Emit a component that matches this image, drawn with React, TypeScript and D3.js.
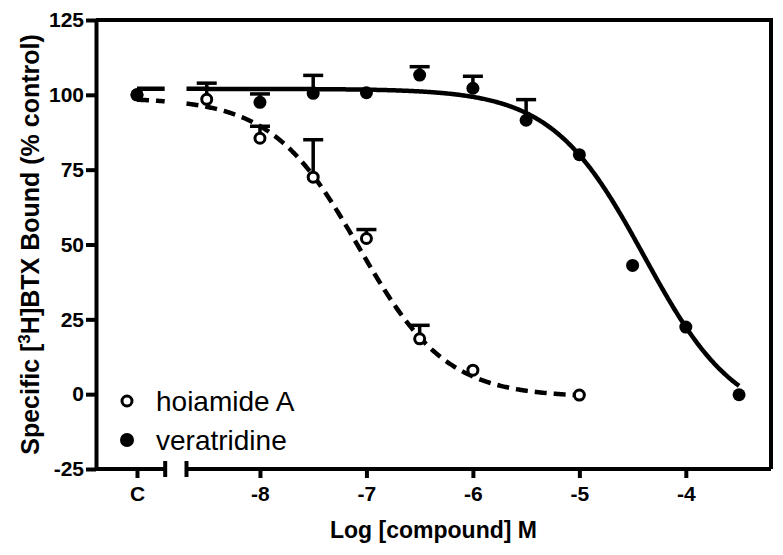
import React, { useEffect, useRef } from "react";
import * as d3 from "d3";

// axis ticks
const yTicks = [-25, 0, 25, 50, 75, 100, 125];
const xTicks = [-8, -7, -6, -5, -4];
const controlLabel = "C";
const controlLogConc = -9.155;
const controlBound = 100;

// hoiamide A (open circles)
const hoiamideLogConc = [-8.5, -8, -7.5, -7, -6.5, -6, -5];
const hoiamideBound = [98.5, 85.5, 72.5, 52, 18.5, 8, -0.3];
const hoiamideSem = [5.4, 4, 12.5, 3, 4.5, 0, 0];

// veratridine (filled circles)
const veratridineLogConc = [-8, -7.5, -7, -6.5, -6, -5.5, -5, -4.5, -4, -3.5];
const veratridineBound = [97.5, 100.5, 100.7, 106.6, 102.2, 91.5, 80, 43, 22.4, -0.2];
const veratridineSem = [2.8, 6, 0, 2.8, 4, 6.9, 0, 0, 0, 0];

// fitted sigmoid parameters
const hoiamideFit = { top: 99, bottom: -1, logIC50: -7.07, hill: 1.056 };
const veratridineFit = { top: 102, bottom: -10, logIC50: -4.39, hill: 1.0 };

const font = "'Liberation Sans', Arial, sans-serif";

export default function App() {
  const ref = useRef<SVGSVGElement>(null);

  useEffect(() => {
    const svg = d3.select(ref.current);
    svg.selectAll("*").remove();

    const x = d3.scaleLinear().domain([-9.54, -3.2]).range([96, 771]);
    const y = d3.scaleLinear().domain([-25, 125]).range([469, 20]);
    const breakStart = -8.89;
    const breakEnd = -8.69;

    const sigmoid = (p, v) => p.bottom + (p.top - p.bottom) / (1 + Math.pow(10, (v - p.logIC50) * p.hill));

    // frame top + right
    svg.append("path")
      .attr("d", `M${x.range()[0]},${y(125)}H${x.range()[1]}V${y(-25)}`)
      .attr("fill", "none").attr("stroke", "#000").attr("stroke-width", 4);

    // y axis
    const yAxisG = svg.append("g")
      .attr("transform", `translate(${x.range()[0]},0)`)
      .call(d3.axisLeft(y).tickValues(yTicks).tickFormat((d) => String(d))
        .tickSize(10).tickSizeOuter(0).tickPadding(2));
    yAxisG.select(".domain").attr("stroke-width", 4);
    yAxisG.selectAll(".tick line").attr("stroke-width", 4);
    yAxisG.selectAll("text")
      .attr("font-family", font).attr("font-weight", "bold").attr("font-size", 21).attr("fill", "#000");

    // x axis - control segment + concentration segment
    const xBottom = y(-25);
    const cAxisG = svg.append("g")
      .attr("transform", `translate(0,${xBottom})`)
      .call(d3.axisBottom(x).tickValues([controlLogConc]).tickFormat(() => controlLabel).tickSize(9).tickPadding(8));
    cAxisG.select(".domain").remove();

    const xAxisG = svg.append("g")
      .attr("transform", `translate(0,${xBottom})`)
      .call(d3.axisBottom(x).tickValues(xTicks).tickFormat((d) => String(d)).tickSize(9).tickPadding(8));
    xAxisG.select(".domain").remove();

    for (const g of [cAxisG, xAxisG]) {
      g.selectAll(".tick line").attr("stroke-width", 4);
      g.selectAll("text")
        .attr("font-family", font).attr("font-weight", "bold").attr("font-size", 21).attr("fill", "#000");
    }

    const segs = [[x.range()[0], x(breakStart)], [x(breakEnd), x.range()[1]]];
    svg.selectAll(".seg").data(segs).enter().append("line")
      .attr("x1", (d) => d[0]).attr("x2", (d) => d[1])
      .attr("y1", xBottom).attr("y2", xBottom)
      .attr("stroke", "#000").attr("stroke-width", 4);
    svg.selectAll(".cap").data([x(breakStart), x(breakEnd)]).enter().append("line")
      .attr("x1", (d) => d).attr("x2", (d) => d)
      .attr("y1", xBottom - 8).attr("y2", xBottom + 8)
      .attr("stroke", "#000").attr("stroke-width", 4);

    // axis titles
    svg.append("text")
      .attr("x", (x.range()[0] + x.range()[1]) / 2).attr("y", 538)
      .attr("text-anchor", "middle")
      .attr("font-family", font).attr("font-weight", "bold").attr("font-size", 23)
      .text("Log [compound] M");

    const yTitle = svg.append("text")
      .attr("transform", `translate(39,${(y(125) + y(-25)) / 2}) rotate(-90)`)
      .attr("text-anchor", "middle")
      .attr("font-family", font).attr("font-weight", "bold").attr("font-size", 25);
    yTitle.append("tspan").text("Specific [");
    yTitle.append("tspan").attr("baseline-shift", "super").attr("font-size", 17).text("3");
    yTitle.append("tspan").text("H]BTX Bound (% control)");

    // curves
    const line = d3.line().x((d) => x(d[0])).y((d) => y(d[1]));
    const curvePieces = (p, end) => [
      d3.range(controlLogConc, breakStart + 0.0001, 0.01),
      d3.range(breakEnd, end + 0.0001, 0.01),
    ].map((r) => r.map((v) => [v, sigmoid(p, v)]));

    curvePieces(veratridineFit, -3.5).forEach((pts) => {
      svg.append("path").attr("d", line(pts))
        .attr("fill", "none").attr("stroke", "#000").attr("stroke-width", 4.5);
    });
    curvePieces(hoiamideFit, -5).forEach((pts) => {
      svg.append("path").attr("d", line(pts))
        .attr("fill", "none").attr("stroke", "#000").attr("stroke-width", 4.5)
        .attr("stroke-dasharray", "12,7");
    });

    // error bars (upper only)
    const errData = [
      ...hoiamideLogConc.map((c, i) => ({ c, v: hoiamideBound[i], e: hoiamideSem[i] })),
      ...veratridineLogConc.map((c, i) => ({ c, v: veratridineBound[i], e: veratridineSem[i] })),
    ].filter((d) => d.e > 0);
    const eb = svg.append("g").attr("stroke", "#000").attr("stroke-width", 3.5);
    eb.selectAll(".stem").data(errData).enter().append("line")
      .attr("x1", (d) => x(d.c)).attr("x2", (d) => x(d.c))
      .attr("y1", (d) => y(d.v)).attr("y2", (d) => y(d.v + d.e));
    eb.selectAll(".ecap").data(errData).enter().append("line")
      .attr("x1", (d) => x(d.c) - 10).attr("x2", (d) => x(d.c) + 10)
      .attr("y1", (d) => y(d.v + d.e)).attr("y2", (d) => y(d.v + d.e));

    // points
    svg.append("g").selectAll("circle")
      .data([controlLogConc, ...hoiamideLogConc].map((c, i) => [c, i === 0 ? controlBound : hoiamideBound[i - 1]]))
      .enter().append("circle")
      .attr("cx", (d) => x(d[0])).attr("cy", (d) => y(d[1])).attr("r", 5)
      .attr("fill", "#fff").attr("stroke", "#000").attr("stroke-width", 3);
    svg.append("g").selectAll("circle")
      .data([controlLogConc, ...veratridineLogConc].map((c, i) => [c, i === 0 ? controlBound : veratridineBound[i - 1]]))
      .enter().append("circle")
      .attr("cx", (d) => x(d[0])).attr("cy", (d) => y(d[1])).attr("r", 6.5)
      .attr("fill", "#000");

    // legend
    const legend = svg.append("g").attr("font-family", font).attr("font-size", 28);
    legend.append("circle").attr("cx", 127).attr("cy", 401).attr("r", 5)
      .attr("fill", "#fff").attr("stroke", "#000").attr("stroke-width", 3);
    legend.append("text").attr("x", 156).attr("y", 401).attr("dy", "0.35em").text("hoiamide A");
    legend.append("circle").attr("cx", 127).attr("cy", 440).attr("r", 7).attr("fill", "#000");
    legend.append("text").attr("x", 156).attr("y", 440).attr("dy", "0.35em").text("veratridine");
  }, []);

  return (
    <svg ref={ref} width={783} height={555}
      style={{ position: "absolute", left: 0, top: 0, background: "#fff" }} />
  );
}
